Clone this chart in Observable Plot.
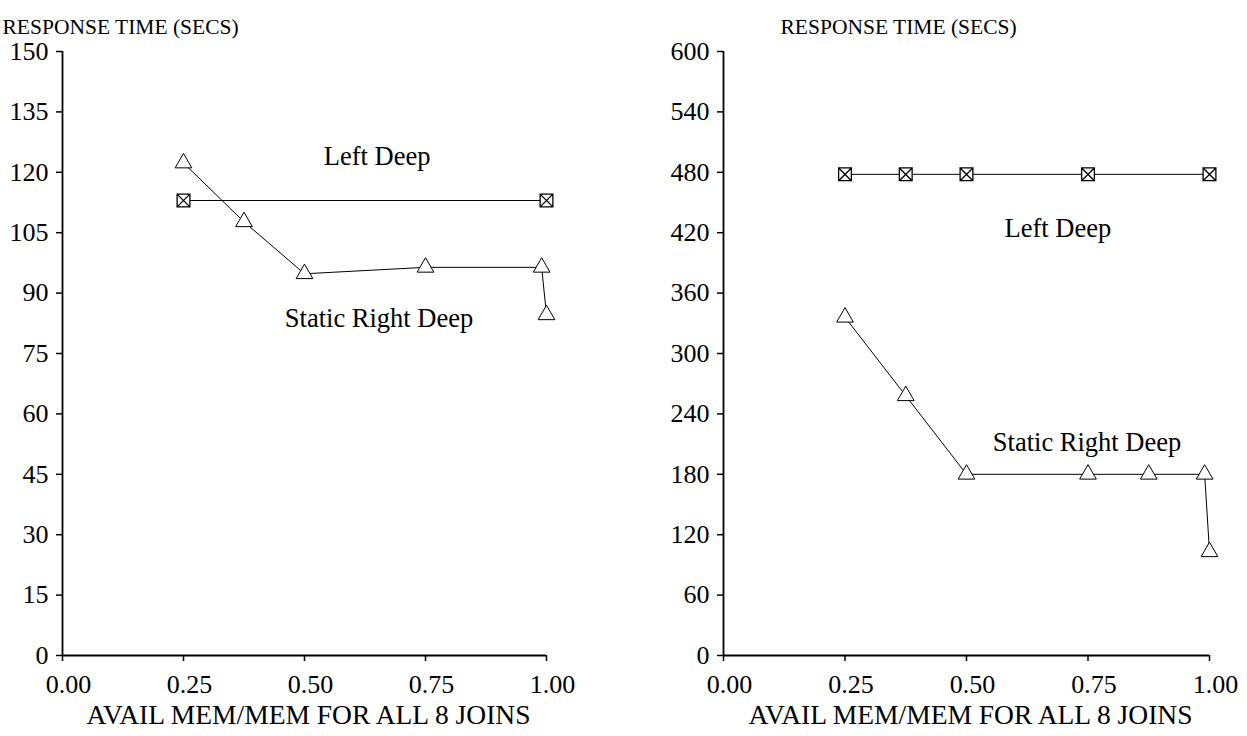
<!DOCTYPE html>
<html><head><meta charset="utf-8">
<script src="https://cdn.jsdelivr.net/npm/d3@7"></script>
<script src="https://cdn.jsdelivr.net/npm/@observablehq/plot@0.6"></script>
<style>
body{margin:0;background:#fff;}
#wrap{position:relative;width:1247px;height:736px;overflow:hidden;}
#left{position:absolute;left:0;top:0;}
#right{position:absolute;left:620px;top:0;}
</style></head><body><div id="wrap"><div id="left"></div><div id="right"></div></div>
<script>
const yTitle = "RESPONSE TIME (SECS)";
const xTitle = "AVAIL MEM/MEM FOR ALL 8 JOINS";
const xTicks = [0, 0.25, 0.5, 0.75, 1];
const seriesNames = ["Left Deep", "Static Right Deep"];

// Left panel
const leftYTicks = [0, 15, 30, 45, 60, 75, 90, 105, 120, 135, 150];
const leftDeepX_L = [0.25, 1.0];
const leftDeepY_L = [113, 113];
const staticX_L = [0.25, 0.375, 0.5, 0.75, 0.99, 1.0];
const staticY_L = [122.3, 107.7, 94.8, 96.4, 96.4, 84.6];
const labelX_L = [0.65, 0.654];
const labelY_L = [123.9, 83.6];

// Right panel
const rightYTicks = [0, 60, 120, 180, 240, 300, 360, 420, 480, 540, 600];
const leftDeepX_R = [0.25, 0.375, 0.5, 0.75, 1.0];
const leftDeepY_R = [478, 478, 478, 478, 478];
const staticX_R = [0.25, 0.375, 0.5, 0.75, 0.875, 0.99, 1.0];
const staticY_R = [336, 258, 180, 180, 180, 180, 103];
const labelX_R = [0.688, 0.748];
const labelY_R = [424, 211.5];

const FONT = "'Liberation Serif', 'Times New Roman', serif";

const boxX = {
  draw(ctx, size) {
    const h = Math.sqrt(size) / 2;
    ctx.moveTo(-h, -h); ctx.lineTo(h, -h); ctx.lineTo(h, h); ctx.lineTo(-h, h); ctx.closePath();
    ctx.moveTo(-h, -h); ctx.lineTo(h, h);
    ctx.moveTo(h, -h); ctx.lineTo(-h, h);
  }
};

function panel({width, marginLeft, marginRight, yMax, yTicks, ldX, ldY, srX, srY, lx, ly, titleDx}) {
  const ld = ldX.map((x, i) => ({x, y: ldY[i]}));
  const sr = srX.map((x, i) => ({x, y: srY[i]}));
  const labels = seriesNames.map((name, i) => ({name, x: lx[i], y: ly[i]}));
  return Plot.plot({
    width, height: 736,
    marginLeft, marginRight, marginTop: 51, marginBottom: 81,
    style: {fontFamily: FONT, fontSize: "26px", color: "#000", background: "#fff"},
    x: {domain: [0, 1]},
    y: {domain: [0, yMax]},
    marks: [
      // x tick marks (no text)
      Plot.axisX({ticks: xTicks, tickFormat: () => "", tickSize: 6, label: null, strokeWidth: 1.5}),
      // x tick labels (slightly right of the ticks, as in the original)
      Plot.axisX({ticks: xTicks, tickFormat: d3.format(".2f"), tickSize: 0, tickPadding: 19, dx: 6, fontSize: 26, label: null}),
      Plot.axisY({ticks: yTicks, tickSize: 6, tickPadding: 8, fontSize: 26, label: null, strokeWidth: 1.5}),
      Plot.ruleX([0], {strokeWidth: 1.8}),
      Plot.ruleY([0], {strokeWidth: 1.8}),
      Plot.line(ld, {x: "x", y: "y", stroke: "#000", strokeWidth: 1}),
      Plot.line(sr, {x: "x", y: "y", stroke: "#000", strokeWidth: 1}),
      Plot.dot(ld, {x: "x", y: "y", symbol: boxX, r: 7.2, fill: "#fff", stroke: "#000", strokeWidth: 1.3}),
      Plot.dot(sr, {x: "x", y: "y", symbol: "triangle", r: 6.2, fill: "#fff", stroke: "#000", strokeWidth: 1}),
      Plot.text(labels, {x: "x", y: "y", text: "name", fontSize: 26.5, fill: "#000"}),
      Plot.text([yTitle], {frameAnchor: "top-left", dx: titleDx, dy: -33, textAnchor: "start", fontSize: 21.5, fill: "#000"}),
      Plot.text([xTitle], {frameAnchor: "bottom", dy: 68, dx: 4, fontSize: 27.5, fill: "#000"})
    ]
  });
}

document.getElementById("left").append(panel({
  width: 620, marginLeft: 62, marginRight: 74, yMax: 150, yTicks: leftYTicks,
  ldX: leftDeepX_L, ldY: leftDeepY_L, srX: staticX_L, srY: staticY_L,
  lx: labelX_L, ly: labelY_L, titleDx: -60
}));
document.getElementById("right").append(panel({
  width: 627, marginLeft: 103, marginRight: 38, yMax: 600, yTicks: rightYTicks,
  ldX: leftDeepX_R, ldY: leftDeepY_R, srX: staticX_R, srY: staticY_R,
  lx: labelX_R, ly: labelY_R, titleDx: 57
}));
</script>
</body></html>
